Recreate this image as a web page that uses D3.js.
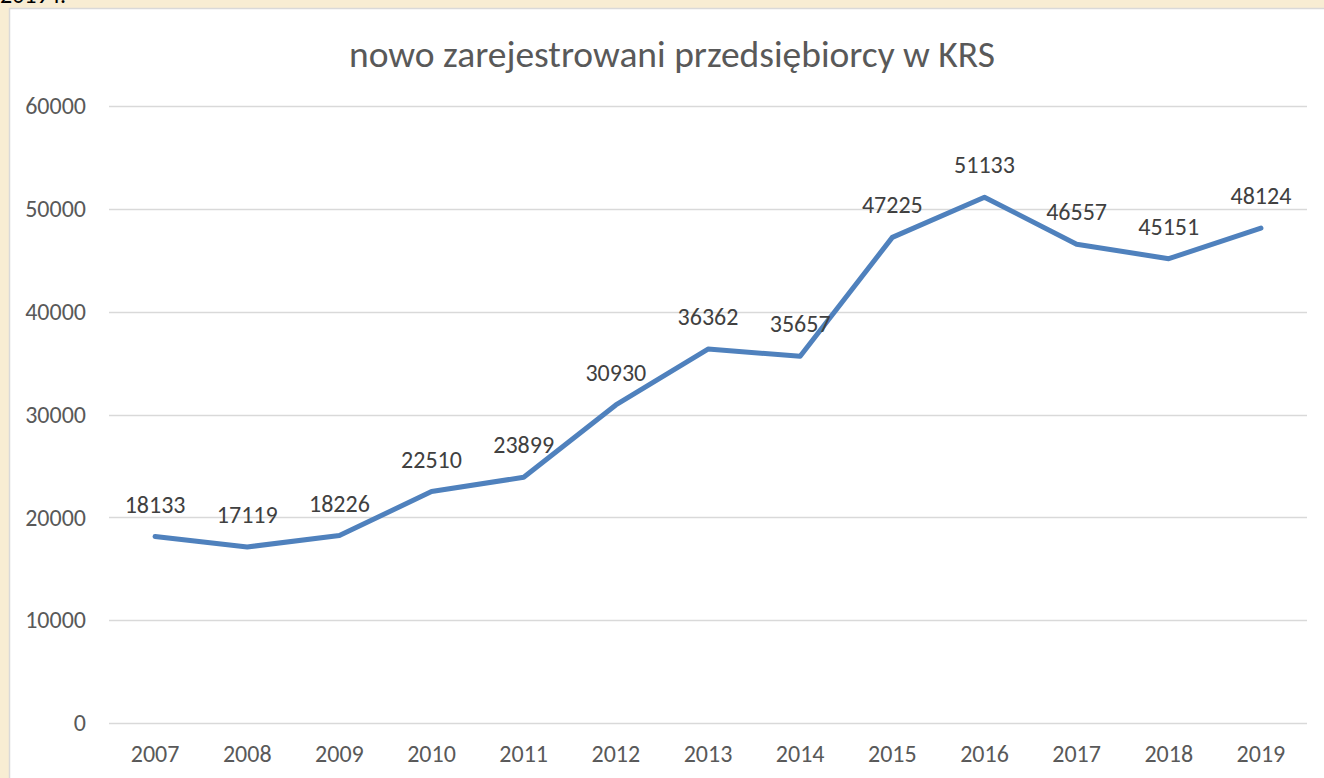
<!DOCTYPE html>
<html>
<head>
<meta charset="utf-8">
<script src="https://cdn.jsdelivr.net/npm/d3@7"></script>
<style>
  body { margin: 0; background: #f8edd3; overflow: hidden; }
  svg { display: block; }
</style>
</head>
<body>
<div id="chart"></div>
<script>
// dane z wykresu
const years = ["2007", "2008", "2009", "2010", "2011", "2012", "2013", "2014", "2015", "2016", "2017", "2018", "2019"];
const registered = [18133, 17119, 18226, 22510, 23899, 30930, 36362, 35657, 47225, 51133, 46557, 45151, 48124];
const yTicks = [0, 10000, 20000, 30000, 40000, 50000, 60000];
const chartTitle = "nowo zarejestrowani przedsiębiorcy w KRS";

function createChart() {
  const W = 1324, H = 778;
  const font = "Carlito, Lato, 'Liberation Sans', sans-serif";

  const svg = d3.select("#chart").append("svg")
    .attr("width", W)
    .attr("height", H);

  // fragment tekstu nad wykresem (ucięty)
  svg.append("text")
    .attr("x", 0)
    .attr("y", 3)
    .attr("font-family", font)
    .attr("font-size", "24px")
    .attr("fill", "#000")
    .text("2019 r.");

  // biała ramka wykresu
  svg.append("rect")
    .attr("x", 9.5)
    .attr("y", 8.5)
    .attr("width", W)
    .attr("height", H)
    .attr("fill", "#fff")
    .attr("stroke", "#d9d9d9")
    .attr("stroke-width", 1.5);

  const left = 109, right = 1307, top = 106, bottom = 723;

  const x = d3.scaleBand()
    .domain(years)
    .range([left, right]);

  const y = d3.scaleLinear()
    .domain([0, 60000])
    .range([bottom, top]);

  // siatka
  svg.append("g")
    .selectAll("line")
    .data(yTicks)
    .enter()
    .append("line")
    .attr("x1", left)
    .attr("x2", right)
    .attr("y1", d => Math.round(y(d)) + 0.5)
    .attr("y2", d => Math.round(y(d)) + 0.5)
    .attr("stroke", "#d9d9d9")
    .attr("stroke-width", 1.5);

  // oś Y
  const yAxis = svg.append("g")
    .attr("transform", `translate(${left},0)`)
    .call(d3.axisLeft(y).tickValues(yTicks).tickSize(0).tickPadding(23).tickFormat(d3.format("d")));
  yAxis.select(".domain").remove();
  yAxis.selectAll("text")
    .attr("font-family", font)
    .attr("font-size", "24px")
    .attr("fill", "#595959");

  // oś X
  const xAxis = svg.append("g")
    .attr("transform", `translate(0,${bottom})`)
    .call(d3.axisBottom(x).tickSize(0).tickPadding(22));
  xAxis.select(".domain").remove();
  xAxis.selectAll("text")
    .attr("font-family", font)
    .attr("font-size", "24px")
    .attr("fill", "#595959");

  // tytuł
  svg.append("text")
    .attr("x", 672)
    .attr("y", 67)
    .attr("text-anchor", "middle")
    .attr("font-family", font)
    .attr("font-size", "37.5px")
    .attr("fill", "#595959")
    .text(chartTitle);

  // linia
  const line = d3.line()
    .x((d, i) => x(years[i]) + x.bandwidth() / 2)
    .y(d => y(d));

  svg.append("path")
    .datum(registered)
    .attr("d", line)
    .attr("fill", "none")
    .attr("stroke", "#4f81bd")
    .attr("stroke-width", 5)
    .attr("stroke-linejoin", "round")
    .attr("stroke-linecap", "round");

  // etykiety danych
  svg.append("g")
    .selectAll("text")
    .data(registered)
    .enter()
    .append("text")
    .attr("x", (d, i) => x(years[i]) + x.bandwidth() / 2)
    .attr("y", d => y(d) - 24)
    .attr("text-anchor", "middle")
    .attr("font-family", font)
    .attr("font-size", "24px")
    .attr("fill", "#404040")
    .text(d => d);
}

createChart();
</script>
</body>
</html>
